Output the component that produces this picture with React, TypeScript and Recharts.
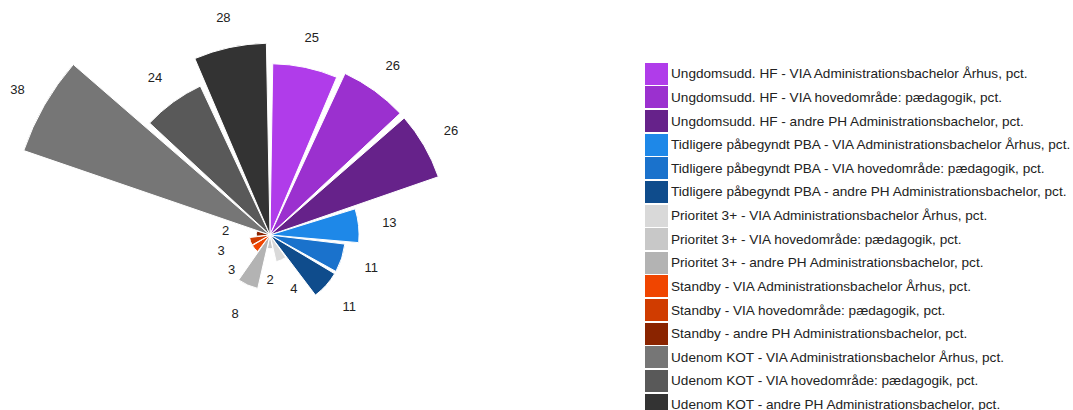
import React from 'react';
import { RadialBarChart, RadialBar, PolarAngleAxis, PolarRadiusAxis, Cell, Legend, LabelList } from 'recharts';

const categories: string[] = [
  'Ungdomsudd. HF - VIA Administrationsbachelor Århus, pct.',
  'Ungdomsudd. HF - VIA hovedområde: pædagogik, pct.',
  'Ungdomsudd. HF - andre PH Administrationsbachelor, pct.',
  'Tidligere påbegyndt PBA - VIA Administrationsbachelor Århus, pct.',
  'Tidligere påbegyndt PBA - VIA hovedområde: pædagogik, pct.',
  'Tidligere påbegyndt PBA - andre PH Administrationsbachelor, pct.',
  'Prioritet 3+ - VIA Administrationsbachelor Århus, pct.',
  'Prioritet 3+ - VIA hovedområde: pædagogik, pct.',
  'Prioritet 3+ - andre PH Administrationsbachelor, pct.',
  'Standby - VIA Administrationsbachelor Århus, pct.',
  'Standby - VIA hovedområde: pædagogik, pct.',
  'Standby - andre PH Administrationsbachelor, pct.',
  'Udenom KOT - VIA Administrationsbachelor Århus, pct.',
  'Udenom KOT - VIA hovedområde: pædagogik, pct.',
  'Udenom KOT - andre PH Administrationsbachelor, pct.',
];

const values: number[] = [25, 26, 26, 13, 11, 11, 4, 2, 8, 3, 3, 2, 38, 24, 28];

const colors: string[] = [
  '#b03cea', '#9b30cf', '#66228a',
  '#1e88e8', '#1a72cc', '#0f4c8c',
  '#d9d9d9', '#c8c8c8', '#b3b3b3',
  '#f04500', '#d03c00', '#8a2400',
  '#767676', '#595959', '#333333',
];

const data = categories.map((name, i) => ({ name, value: values[i] }));

const FONT = "Arial, 'Liberation Sans', sans-serif";

const renderLabel = (props: any) => {
  const vb = props.viewBox || props;
  const { cx, cy, outerRadius, startAngle, endAngle } = vb;
  if (cx == null || outerRadius == null) return null;
  const mid = (startAngle + endAngle) / 2;
  const r = outerRadius + 31;
  const rad = (-mid * Math.PI) / 180;
  const x = cx + r * Math.cos(rad);
  const y = cy + r * Math.sin(rad);
  return (
    <text x={x} y={y} textAnchor="middle" dominantBaseline="central" fill="#222" fontSize={13} fontFamily={FONT}>
      {props.value}
    </text>
  );
};

const renderLegend = () => (
  <div style={{ fontFamily: FONT, fontSize: 13.6, color: '#222' }}>
    {categories.map((c, i) => (
      <div key={c} style={{ display: 'flex', alignItems: 'center', height: 23.64 }}>
        <div style={{ width: 23, height: 22, background: colors[i], flexShrink: 0 }} />
        <span style={{ marginLeft: 3, whiteSpace: 'nowrap' }}>{c}</span>
      </div>
    ))}
  </div>
);

export default function App() {
  return (
    <div style={{ position: 'absolute', left: 0, top: 0, width: 1073, height: 410, background: '#fff' }}>
      <RadialBarChart
        width={1073}
        height={410}
        data={data}
        cx={270}
        cy={235}
        innerRadius={0}
        outerRadius={274}
        startAngle={66}
        endAngle={-294}
        layout="centric"
        barCategoryGap="4.5%"
        margin={{ top: 0, right: 0, bottom: 0, left: 0 }}
      >
        <PolarAngleAxis type="category" dataKey="name" tick={false} axisLine={false} />
        <PolarRadiusAxis type="number" domain={[0, 40]} tick={false} axisLine={false} />
        <RadialBar dataKey="value" isAnimationActive={false} stroke="#fff" strokeWidth={1}>
          {data.map((d, i) => (
            <Cell key={d.name} fill={colors[i]} />
          ))}
          <LabelList dataKey="value" content={renderLabel} />
        </RadialBar>
        <Legend
          content={renderLegend}
          wrapperStyle={{ position: 'absolute', left: 645, top: 62, width: 428 }}
        />
      </RadialBarChart>
    </div>
  );
}
